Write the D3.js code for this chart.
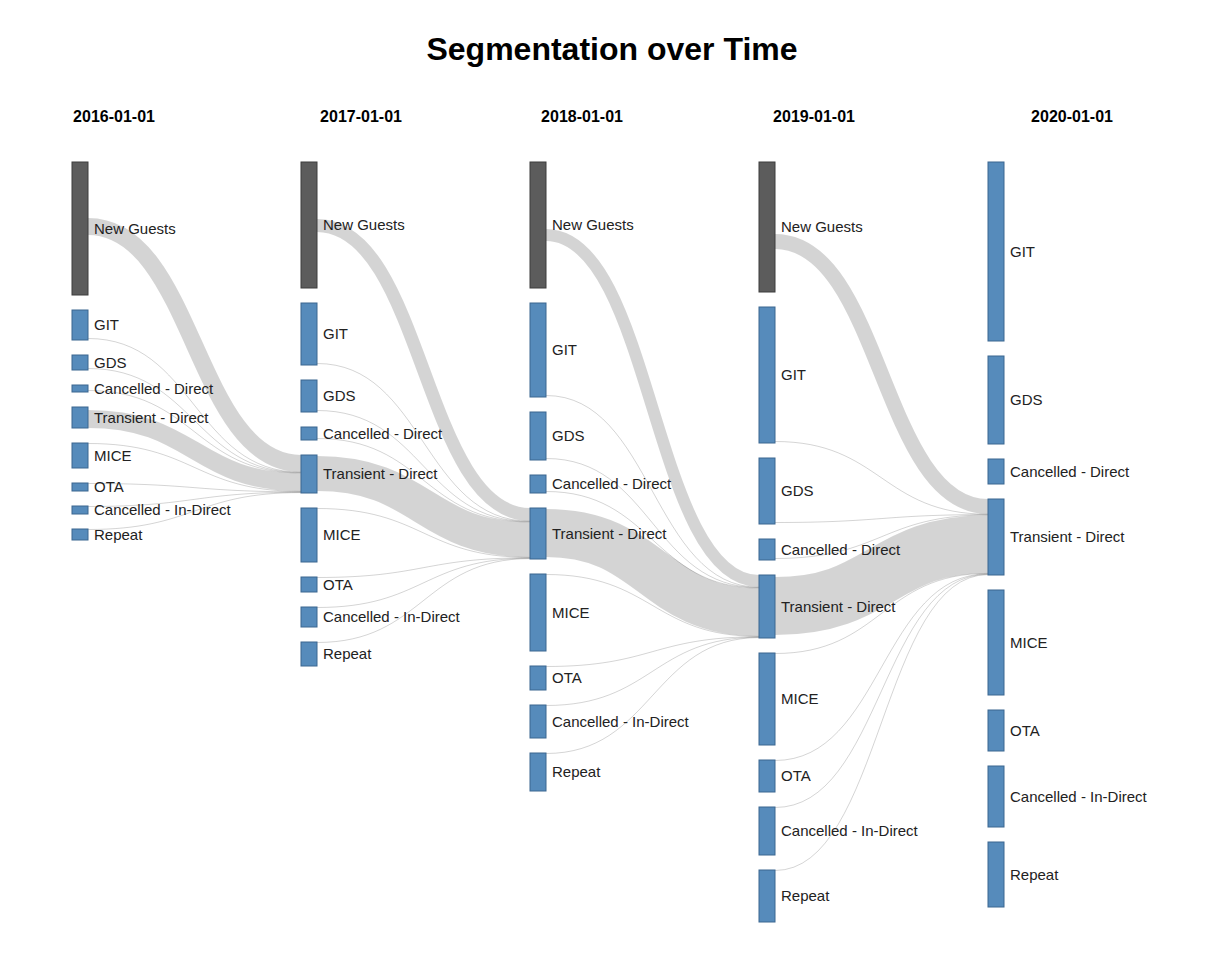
<!DOCTYPE html>
<html>
    <head>
        <title>Segmentation over Time</title>
        <meta charset="UTF-8" />
        <script src="https://cdn.jsdelivr.net/npm/d3@7/dist/d3.min.js"></script>
        <style>
            body { margin: 0; background: #fff; }
            svg { display: block; font-family: "Liberation Sans", Arial, sans-serif; }
        </style>
    </head>
    <body>
        <svg width="1222" height="964"></svg>
        <script>
            // column dates and segment names
            var years = ["2016-01-01", "2017-01-01", "2018-01-01", "2019-01-01", "2020-01-01"]
            var segments = ["New Guests", "GIT", "GDS", "Cancelled - Direct", "Transient - Direct",
                            "MICE", "OTA", "Cancelled - In-Direct", "Repeat"]
            var segments2020 = ["GIT", "GDS", "Cancelled - Direct", "Transient - Direct",
                                "MICE", "OTA", "Cancelled - In-Direct", "Repeat"]

            // guests per segment, one array per year
            var guests2016 = [133, 30, 15, 7, 21, 25, 8, 8, 11]
            var guests2017 = [126, 62, 32, 13, 38, 54, 15, 20, 24]
            var guests2018 = [126, 94, 48, 18, 51, 77, 24, 33, 38]
            var guests2019 = [130, 136, 66, 21, 63, 92, 32, 48, 52]
            var guests2020 = [179, 88, 25, 76, 105, 41, 61, 65]

            // flows into next year's Transient - Direct (one value per transition)
            var newToTransient = [17, 13, 12, 15]
            var newToEarlierSegments = [56, 57, 67, 72]
            var transientKept = [18, 35, 48, 58]
            var transientToEarlierSegments = [3, 1, 1, 2]
            var gitToTransient = [0.4, 0.4, 0.4, 0.4]
            var gdsToTransient = [0.4, 0.4, 0.4, 0.4]
            var cancDirectToTransient = [0.4, 0.4, 0.4, 0.4]
            var miceToTransient = [0.4, 0.4, 0.4, 0.4]
            var otaToTransient = [0.4, 0.4, 0.4, 0.4]
            var cancIndirectToTransient = [0.4, 0.4, 0.4, 0.4]
            var repeatToTransient = [0.4, 0.4, 0.4, 0.4]

            function drawSegmentation() {
                var svg = d3.select("svg")
                var top = 162, bottom = 922, pad = 15, nodeW = 16
                var columns = [
                    {names: segments, values: guests2016},
                    {names: segments, values: guests2017},
                    {names: segments, values: guests2018},
                    {names: segments, values: guests2019},
                    {names: segments2020, values: guests2020}
                ]

                var xScale = d3.scaleLinear().domain([0, years.length - 1]).range([72, 988])
                var maxN = d3.max(columns, c => c.names.length)
                var maxTotal = d3.max(columns, c => d3.sum(c.values))
                var ky = d3.scaleLinear().domain([0, maxTotal]).range([0, bottom - top - (maxN - 1) * pad])

                // stack the nodes of every column from the top
                columns.forEach(function(col, ci) {
                    var y = top
                    col.nodes = col.names.map(function(name, k) {
                        var h = ky(col.values[k])
                        var node = {name: name, x0: xScale(ci), x1: xScale(ci) + nodeW, y0: y, y1: y + h}
                        y += h + pad
                        return node
                    })
                })

                var minorFlows = {
                    "GIT": gitToTransient,
                    "GDS": gdsToTransient,
                    "Cancelled - Direct": cancDirectToTransient,
                    "MICE": miceToTransient,
                    "OTA": otaToTransient,
                    "Cancelled - In-Direct": cancIndirectToTransient,
                    "Repeat": repeatToTransient
                }

                var links = []
                for (var t = 0; t < years.length - 1; ++t) {
                    var src = columns[t]
                    var target = columns[t + 1].nodes.find(n => n.name == "Transient - Direct")
                    var tdIndex = src.names.indexOf("Transient - Direct")
                    var cursor = target.y0
                    src.nodes.forEach(function(node, k) {
                        var value, sy
                        if (node.name == "New Guests") value = newToTransient[t]
                        else if (node.name == "Transient - Direct") value = transientKept[t]
                        else value = minorFlows[node.name][t]
                        var w = ky(value)
                        var sw = Math.max(1, w)
                        if (node.name == "New Guests") sy = node.y0 + ky(newToEarlierSegments[t]) + w / 2
                        else if (k == tdIndex) sy = node.y0 + ky(transientToEarlierSegments[t]) + w / 2
                        else if (k < tdIndex) sy = node.y1 - sw / 2 - 1
                        else sy = node.y0 + sw / 2
                        var ty = cursor + w / 2
                        cursor += w
                        links.push({source: [node.x1, sy], target: [target.x0, ty], width: sw})
                    })
                }

                var linkPath = d3.linkHorizontal()
                svg.append("g")
                   .attr("fill", "none")
                   .attr("stroke", "#000")
                   .attr("stroke-opacity", 0.17)
                   .selectAll("path")
                   .data(links)
                   .enter()
                   .append("path")
                     .attr("d", d => linkPath(d))
                     .attr("stroke-width", d => d.width)

                var allNodes = d3.merge(columns.map(c => c.nodes))

                svg.append("g").selectAll("rect")
                   .data(allNodes)
                   .enter()
                   .append("rect")
                     .attr("x", d => d.x0)
                     .attr("y", d => d.y0)
                     .attr("width", d => d.x1 - d.x0)
                     .attr("height", d => d.y1 - d.y0)
                     .attr("fill", d => d.name == "New Guests" ? "#5c5c5c" : "#568bbb")
                     .attr("stroke", d => d.name == "New Guests" ? "#3d3d3d" : "#3b6690")
                     .attr("stroke-width", 1)

                svg.append("g").selectAll("text")
                   .data(allNodes)
                   .enter()
                   .append("text")
                     .attr("x", d => d.x1 + 6)
                     .attr("y", d => (d.y0 + d.y1) / 2)
                     .attr("dy", "0.35em")
                     .style("font-size", "15px")
                     .style("fill", "#222")
                     .text(d => d.name)

                // date headers sit a little to the right of each column
                var headerShift = [42, 60, 52, 55, 84]
                svg.append("g").selectAll("text")
                   .data(years)
                   .enter()
                   .append("text")
                     .attr("x", (d, i) => xScale(i) + headerShift[i])
                     .attr("y", 122)
                     .style("text-anchor", "middle")
                     .style("font-size", "16px")
                     .style("font-weight", "bold")
                     .style("fill", "#000")
                     .text(d => d)

                svg.append("text")
                   .attr("x", 612)
                   .attr("y", 60)
                   .style("text-anchor", "middle")
                   .style("font-size", "32px")
                   .style("font-weight", "bold")
                   .style("fill", "#000")
                   .text("Segmentation over Time")
            }

            drawSegmentation()
        </script>
    </body>
</html>
